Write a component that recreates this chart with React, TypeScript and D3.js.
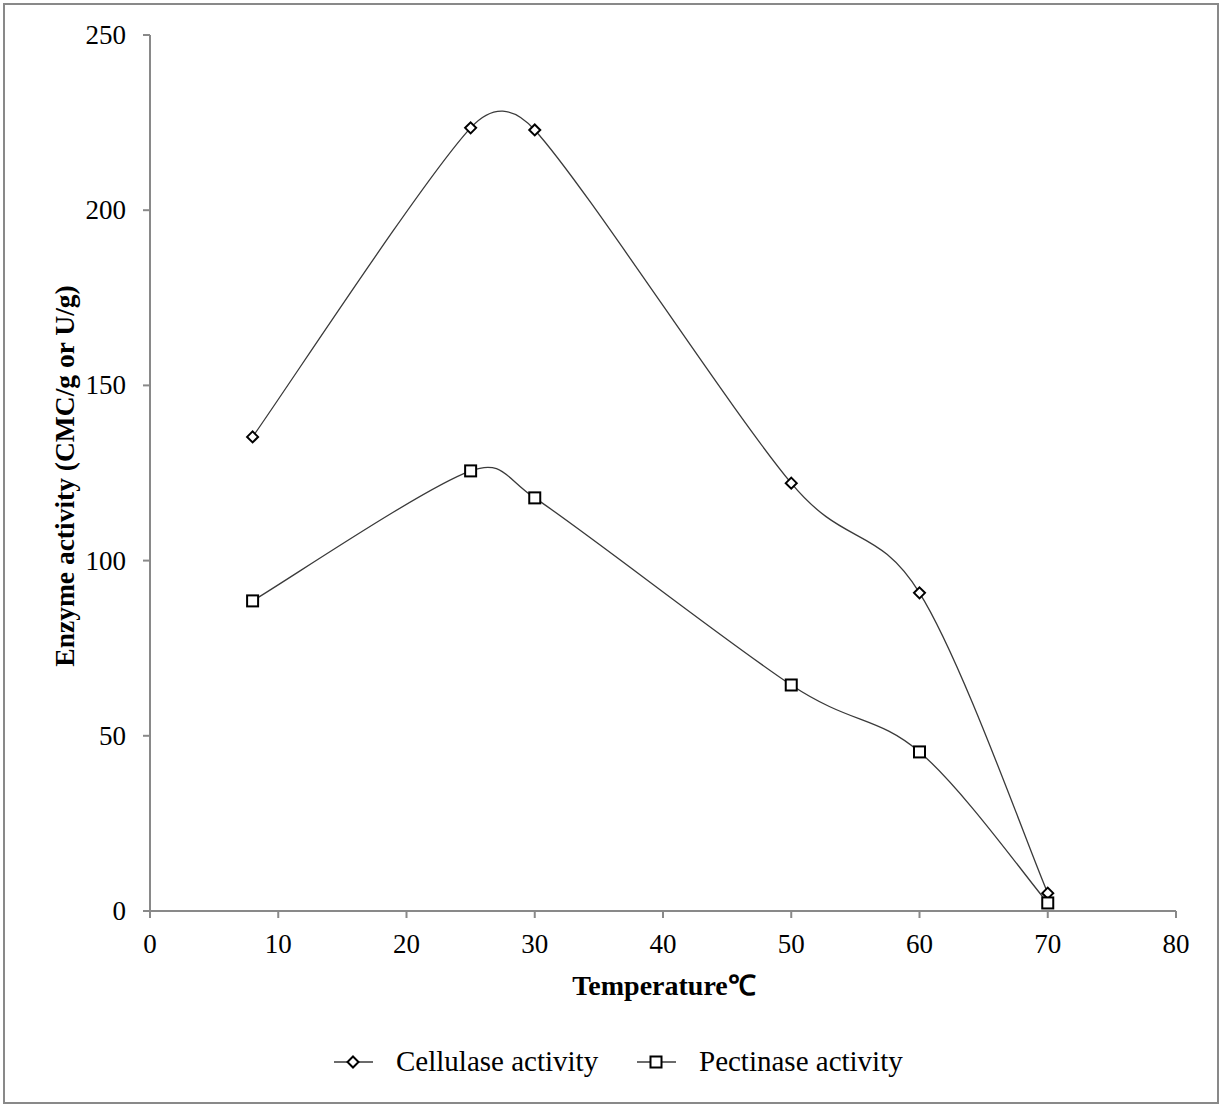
import React from "react";
import * as d3 from "d3";

const temperatures = [8, 25, 30, 50, 60, 70];
const cellulase = [135.3, 223.5, 222.9, 122.1, 90.8, 5.1];
const pectinase = [88.5, 125.6, 117.9, 64.5, 45.4, 2.3];
const xTicks = [0, 10, 20, 30, 40, 50, 60, 70, 80];
const yTicks = [0, 50, 100, 150, 200, 250];
const seriesNames = ["Cellulase activity", "Pectinase activity"];

const W = 1221;
const H = 1106;

// Spreadsheet-style smoothing: cubic Bezier with 1/6 tangents, capped at half of the segment
function smoothCurve(context: any) {
  let pts: [number, number][] = [];
  const dist = (a: [number, number], b: [number, number]) =>
    Math.hypot(b[0] - a[0], b[1] - a[1]);
  return {
    areaStart() {},
    areaEnd() {},
    lineStart() {
      pts = [];
    },
    point(x: number, y: number) {
      pts.push([+x, +y]);
    },
    lineEnd() {
      const n = pts.length;
      if (!n) return;
      context.moveTo(pts[0][0], pts[0][1]);
      for (let i = 0; i < n - 1; i++) {
        const p0 = pts[Math.max(i - 1, 0)];
        const p1 = pts[i];
        const p2 = pts[i + 1];
        const p3 = pts[Math.min(i + 2, n - 1)];
        const d12 = dist(p1, p2);
        const d02 = dist(p0, p2);
        const d13 = dist(p1, p3);
        let f1 = 1 / 6;
        let f2 = 1 / 6;
        if (d02 / 6 > d12 / 2) f1 = d12 / (2 * d02);
        if (d13 / 6 > d12 / 2) f2 = d12 / (2 * d13);
        const c1x = p1[0] + (p2[0] - p0[0]) * f1;
        const c1y = p1[1] + (p2[1] - p0[1]) * f1;
        const c2x = p2[0] - (p3[0] - p1[0]) * f2;
        const c2y = p2[1] - (p3[1] - p1[1]) * f2;
        context.bezierCurveTo(c1x, c1y, c2x, c2y, p2[0], p2[1]);
      }
    },
  };
}

export default function App() {
  const x = d3.scaleLinear().domain([0, 80]).range([150, 1176]);
  const y = d3.scaleLinear().domain([0, 250]).range([911, 35]);
  const line = d3
    .line<number>()
    .x((_, i) => x(temperatures[i]))
    .y((d) => y(d))
    .curve(smoothCurve as any);
  const font = "'Liberation Serif', 'Times New Roman', serif";
  const axisColor = "#898989";

  const diamond = (cx: number, cy: number, key: string) => (
    <path
      key={key}
      d={`M${cx},${cy - 5.5}L${cx + 5.5},${cy}L${cx},${cy + 5.5}L${cx - 5.5},${cy}Z`}
      fill="white"
      stroke="black"
      strokeWidth={2}
    />
  );
  const square = (cx: number, cy: number, key: string) => (
    <rect
      key={key}
      x={cx - 5.5}
      y={cy - 5.5}
      width={11}
      height={11}
      fill="white"
      stroke="black"
      strokeWidth={2}
    />
  );

  return (
    <svg
      width={W}
      height={H}
      style={{ position: "absolute", left: 0, top: 0 }}
      fontFamily={font}
    >
      <rect x={0} y={0} width={W} height={H} fill="white" />
      <rect x={4} y={4} width={1214} height={1099} fill="white" stroke={axisColor} strokeWidth={2} />

      {/* Y axis */}
      <line x1={150} x2={150} y1={y(250)} y2={y(0)} stroke={axisColor} strokeWidth={2} />
      {yTicks.map((t) => (
        <g key={"y" + t}>
          <line x1={143} x2={150} y1={y(t)} y2={y(t)} stroke={axisColor} strokeWidth={2} />
          <text x={126} y={y(t) + 9} textAnchor="end" fontSize={27} fill="#000">
            {t}
          </text>
        </g>
      ))}

      {/* X axis */}
      <line x1={x(0)} x2={x(80)} y1={y(0)} y2={y(0)} stroke={axisColor} strokeWidth={2} />
      {xTicks.map((t) => (
        <g key={"x" + t}>
          <line x1={x(t)} x2={x(t)} y1={911} y2={918} stroke={axisColor} strokeWidth={2} />
          <text x={x(t)} y={953} textAnchor="middle" fontSize={27} fill="#000">
            {t}
          </text>
        </g>
      ))}

      <text x={664} y={995} textAnchor="middle" fontSize={28} fontWeight="bold" fill="#000">
        Temperature℃
      </text>
      <text
        transform={`translate(74,476) rotate(-90)`}
        textAnchor="middle"
        fontSize={27.5}
        fontWeight="bold"
        fill="#000"
      >
        Enzyme activity (CMC/g or U/g)
      </text>

      {/* Lines */}
      <path d={line(cellulase) || ""} fill="none" stroke="#3a3a3a" strokeWidth={1.3} />
      <path d={line(pectinase) || ""} fill="none" stroke="#3a3a3a" strokeWidth={1.3} />
      {cellulase.map((v, i) => diamond(x(temperatures[i]), y(v), "c" + i))}
      {pectinase.map((v, i) => square(x(temperatures[i]), y(v), "p" + i))}

      {/* Legend */}
      <line x1={334} x2={373} y1={1062} y2={1062} stroke="#3a3a3a" strokeWidth={1.3} />
      {diamond(353, 1062, "ld")}
      <text x={396} y={1071} fontSize={29} fill="#000">
        {seriesNames[0]}
      </text>
      <line x1={637} x2={676} y1={1062} y2={1062} stroke="#3a3a3a" strokeWidth={1.3} />
      {square(656, 1062, "ls")}
      <text x={699} y={1071} fontSize={29} fill="#000">
        {seriesNames[1]}
      </text>
    </svg>
  );
}
